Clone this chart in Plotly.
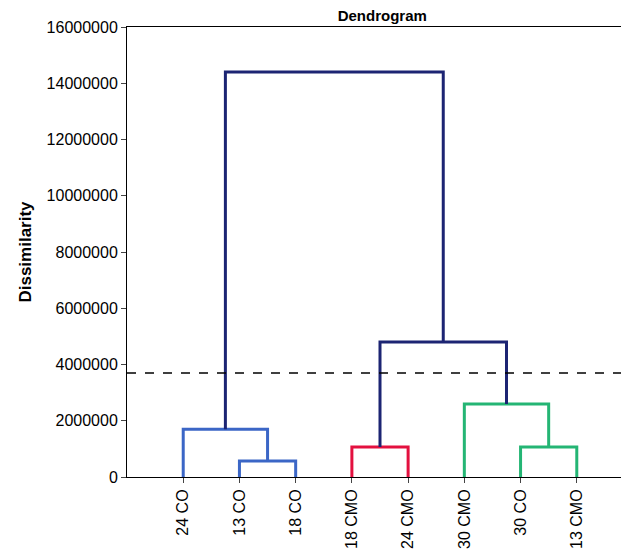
import plotly.graph_objects as go

leaves = ["24 CO", "13 CO", "18 CO", "18 CMO", "24 CMO", "30 CMO", "30 CO", "13 CMO"]
# merges: (left node, right node, height, colour); nodes 0-7 leaves, 8+ merges
merge_left = [1, 0, 3, 6, 5, 10, 9]
merge_right = [2, 8, 4, 7, 11, 12, 13]
merge_height = [570000, 1700000, 1070000, 1070000, 2600000, 4800000, 14400000]
merge_color = ["#3b66c6", "#3b66c6", "#e3103f", "#24b574", "#24b574", "#1c2473", "#1c2473"]
cut_height = 3700000

pos = {i: i + 1 for i in range(len(leaves))}
hgt = {i: 0 for i in range(len(leaves))}
fig = go.Figure()
for k, (l, r, h, c) in enumerate(zip(merge_left, merge_right, merge_height, merge_color)):
    node = len(leaves) + k
    fig.add_trace(go.Scatter(x=[pos[l], pos[l], pos[r], pos[r]], y=[hgt[l], h, h, hgt[r]],
                             mode="lines", line=dict(color=c, width=3), showlegend=False, hoverinfo="skip"))
    pos[node] = (pos[l] + pos[r]) / 2
    hgt[node] = h

fig.add_shape(type="line", xref="paper", x0=0, x1=1, y0=cut_height, y1=cut_height,
              line=dict(color="black", width=1.5, dash="dash"))

fig.update_layout(
    width=629, height=556, plot_bgcolor="white", paper_bgcolor="white",
    margin=dict(l=119, r=4, t=19, b=87),
    title=dict(text="<b>Dendrogram</b>", x=0.595, xanchor="center", y=0.995, yanchor="top",
               font=dict(family="Liberation Sans, Arial", size=15, color="black")),
    font=dict(family="Liberation Sans, Arial", size=16, color="black"),
)
fig.update_xaxes(range=[0, 9], tickvals=list(range(1, 9)), ticktext=leaves, tickangle=-90,
                 showline=True, linecolor="black", mirror=True, showgrid=False, zeroline=False,
                 ticks="outside", ticklen=5)
fig.update_yaxes(range=[0, 16000000], dtick=2000000, tickformat="d", showline=True, linecolor="black",
                 mirror=True, showgrid=False, zeroline=False, ticks="outside", ticklen=5,
                 title=dict(text="<b>Dissimilarity</b>", font=dict(size=17), standoff=10))
fig.write_html("out.html")
